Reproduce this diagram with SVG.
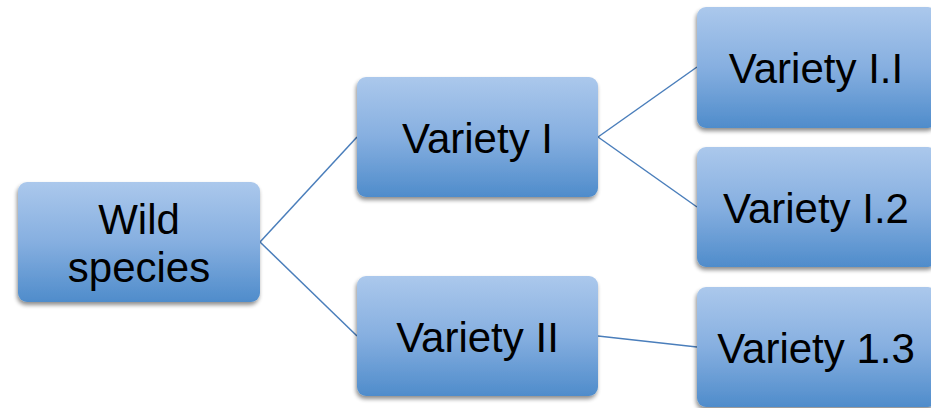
<svg xmlns="http://www.w3.org/2000/svg" width="931" height="408" viewBox="0 0 931 408">
<defs>
<linearGradient id="g" x1="0" y1="0" x2="0" y2="1">
<stop offset="0" stop-color="#abc8ec"/>
<stop offset="0.5" stop-color="#86afe0"/>
<stop offset="1" stop-color="#4f8ccb"/>
</linearGradient>
<filter id="sh" x="-10%" y="-10%" width="120%" height="125%">
<feGaussianBlur in="SourceAlpha" stdDeviation="2"/>
<feOffset dx="-1" dy="3" result="b"/>
<feComponentTransfer><feFuncA type="linear" slope="0.45"/></feComponentTransfer>
<feMerge><feMergeNode/><feMergeNode in="SourceGraphic"/></feMerge>
</filter>
</defs>
<style>
.box{fill:url(#g);filter:url(#sh)}
.t{font-family:"Liberation Sans",Arial,sans-serif;font-size:42px;fill:#000;text-anchor:middle}
.c{stroke:#4a7ebb;stroke-width:1.5;fill:none}
</style>
<rect width="931" height="408" fill="#fff"/>
<g id="connectors">
<line class="c" x1="260" y1="242" x2="357" y2="137"/>
<line class="c" x1="260" y1="242" x2="357" y2="336"/>
<line class="c" x1="598" y1="137" x2="697" y2="67"/>
<line class="c" x1="598" y1="137" x2="697" y2="207"/>
<line class="c" x1="598" y1="336" x2="697" y2="347"/>
</g>
<g id="wild">
<rect class="box" x="18" y="182" width="242" height="120" rx="9"/>
<text class="t" x="139" y="234">Wild</text>
<text class="t" x="139" y="282">species</text>
</g>
<g id="v1">
<rect class="box" x="357" y="77" width="241" height="120" rx="9"/>
<text class="t" x="477.5" y="153">Variety I</text>
</g>
<g id="v2">
<rect class="box" x="357" y="276" width="241" height="120" rx="9"/>
<text class="t" x="477.5" y="352">Variety II</text>
</g>
<g id="v11">
<rect class="box" x="697" y="7" width="240" height="121" rx="9"/>
<text class="t" x="816" y="83">Variety I.I</text>
</g>
<g id="v12">
<rect class="box" x="697" y="147" width="240" height="120" rx="9"/>
<text class="t" x="816" y="223">Variety I.2</text>
</g>
<g id="v13">
<rect class="box" x="697" y="287" width="240" height="120" rx="9"/>
<text class="t" x="816" y="363">Variety 1.3</text>
</g>
</svg>
